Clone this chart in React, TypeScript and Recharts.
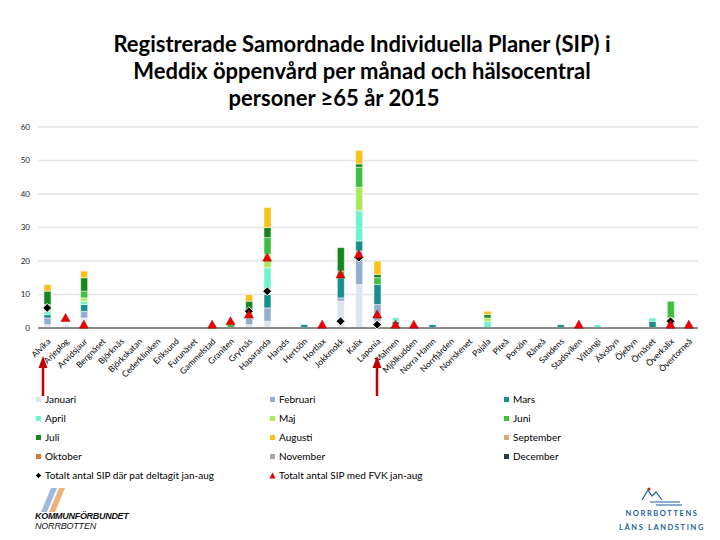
import { ComposedChart, Bar, Line, XAxis, YAxis, CartesianGrid } from "recharts";

const categories = [
  "Alvika", "Arjeplog", "Arvidsjaur", "Bergnäset", "Björknäs", "Björkskatan",
  "Cederkliniken", "Eriksund", "Furunäset", "Gammelstad", "Graniten", "Grytnäs",
  "Haparanda", "Harads", "Hertsön", "Hortlax", "Jokkmokk", "Kalix",
  "Laponia", "Malmen", "Mjölkudden", "Norra Hamn", "Norrfjärden", "Norrskenet",
  "Pajala", "Piteå", "Porsön", "Råneå", "Sandens", "Stadsviken",
  "Vittangi", "Älvsbyn", "Öjebyn", "Örnäset", "Överkalix", "Övertorneå",
];

const januari = [1, 1, 3, 0, 0, 0, 0, 0, 0, 0, 0, 1, 2, 0, 0, 0, 8, 13, 2, 1, 0, 0, 0, 0, 0, 0, 0, 0, 0, 0, 0, 0, 0, 0, 1, 0];
const februari = [2, 0, 2, 0, 0, 0, 0, 0, 0, 0, 0, 2, 4, 0, 0, 0, 1, 10, 5, 0, 0, 0, 0, 0, 0, 0, 0, 0, 0, 0, 0, 0, 0, 0, 0, 0];
const mars = [1, 0, 2, 0, 0, 0, 0, 0, 0, 0, 0, 1, 4, 0, 1, 0, 6, 3, 6, 1, 0, 1, 0, 0, 0, 0, 0, 0, 1, 0, 0, 0, 0, 2, 1, 0];
const april = [1, 0, 1, 0, 0, 0, 0, 0, 0, 0, 0, 0, 8, 0, 0, 0, 0, 9, 0, 1, 0, 0, 0, 0, 2, 0, 0, 0, 0, 0, 1, 0, 0, 1, 0, 0];
const maj = [1, 0, 1, 0, 0, 0, 0, 0, 0, 0, 0, 0, 4, 0, 0, 0, 0, 7, 0, 0, 0, 0, 0, 0, 1, 0, 0, 0, 0, 0, 0, 0, 0, 0, 1, 0];
const juni = [1, 0, 2, 0, 0, 0, 0, 0, 0, 0, 1, 1, 5, 0, 0, 0, 2, 6, 2, 0, 0, 0, 0, 0, 0, 0, 0, 0, 0, 0, 0, 0, 0, 0, 5, 0];
const juli = [4, 0, 4, 0, 0, 0, 0, 0, 0, 0, 0, 3, 3, 0, 0, 0, 7, 1, 1, 0, 0, 0, 0, 0, 1, 0, 0, 0, 0, 0, 0, 0, 0, 0, 0, 0];
const augusti = [2, 0, 2, 0, 0, 0, 0, 0, 0, 1, 1, 2, 6, 0, 0, 0, 0, 4, 4, 0, 0, 0, 0, 0, 1, 0, 0, 0, 0, 0, 0, 0, 0, 0, 0, 0];
// no registrations yet for the autumn months
const september: number[] = [];
const oktober: number[] = [];
const november: number[] = [];
const december: number[] = [];

const deltagit = [6, null, null, null, null, null, null, null, null, null, null, 5, 11, null, null, null, 2, 21, 1, null, null, null, null, null, null, null, null, null, null, null, null, null, null, null, 2, null];
const medFvk = [null, 3, 1, null, null, null, null, null, null, 1, 2, 4, 21, null, null, 1, 16, 22, 4, 1, 1, null, null, null, null, null, null, null, null, 1, null, null, null, null, 1, 1];

const months = [
  { key: "Januari", values: januari, color: "#dde5ef" },
  { key: "Februari", values: februari, color: "#93aecf" },
  { key: "Mars", values: mars, color: "#17908c" },
  { key: "April", values: april, color: "#6ff3cc" },
  { key: "Maj", values: maj, color: "#aaea5a" },
  { key: "Juni", values: juni, color: "#3ebf3e" },
  { key: "Juli", values: juli, color: "#15861c" },
  { key: "Augusti", values: augusti, color: "#f8c21a" },
  { key: "September", values: september, color: "#d8a878" },
  { key: "Oktober", values: oktober, color: "#d27a34" },
  { key: "November", values: november, color: "#a6a6a6" },
  { key: "December", values: december, color: "#243b55" },
];

const data = categories.map((name, i) => {
  const row: any = { name, deltagit: deltagit[i], fvk: medFvk[i] };
  months.forEach((m) => {
    const v = m.values[i];
    row[m.key] = v ? v : null;
  });
  return row;
});

const FONT = "Lato, 'Open Sans', sans-serif";

const CategoryTick = ({ x, y, payload }: any) => (
  <text
    x={x + 4}
    y={y + 6}
    transform={`rotate(-45, ${x + 4}, ${y + 6})`}
    textAnchor="end"
    fontSize={8.5}
    fontFamily={FONT}
    fill="#000"
  >
    {payload.value}
  </text>
);

const DiamondDot = ({ cx, cy, value, index }: any) => {
  if (value == null || cy == null) return <g key={`d-${index}`} />;
  return (
    <path
      key={`d-${index}`}
      d={`M${cx},${cy - 4.5} L${cx + 4.5},${cy} L${cx},${cy + 4.5} L${cx - 4.5},${cy} Z`}
      fill="#000"
      stroke="#fff"
      strokeWidth={1}
    />
  );
};

const TriangleDot = ({ cx, cy, value, index }: any) => {
  if (value == null || cy == null) return <g key={`t-${index}`} />;
  return (
    <path
      key={`t-${index}`}
      d={`M${cx},${cy - 4.5} L${cx + 4.5},${cy + 3.5} L${cx - 4.5},${cy + 3.5} Z`}
      fill="#f00000"
      stroke="#a00000"
      strokeWidth={0.5}
    />
  );
};

const legendItems = [
  ...months.map((m) => ({ label: m.key, kind: "square", color: m.color })),
  { label: "Totalt antal SIP där pat deltagit jan-aug", kind: "diamond", color: "#000" },
  { label: "Totalt antal SIP med FVK jan-aug", kind: "triangle", color: "#e00000" },
];

const LegendMarker = ({ kind, color }: any) => (
  <svg width={7} height={7} style={{ marginRight: 3, flexShrink: 0 }}>
    {kind === "square" && <rect x={1} y={1} width={5} height={5} fill={color} />}
    {kind === "diamond" && <path d="M3.5,0.5 L6.5,3.5 L3.5,6.5 L0.5,3.5 Z" fill="#000" stroke="#fff" strokeWidth={0.8} />}
    {kind === "triangle" && <path d="M3.5,0.5 L6.5,6.5 L0.5,6.5 Z" fill={color} />}
  </svg>
);

const Arrow = ({ x }: { x: number }) => (
  <g>
    <line x1={x} y1={396} x2={x} y2={366} stroke="#c00000" strokeWidth={2.5} />
    <path d={`M${x},356 L${x + 4.5},368 L${x - 4.5},368 Z`} fill="#c00000" />
  </g>
);

export default function App() {
  const colX = [35, 269, 503];
  const rowY = [399, 418, 437, 456, 475];

  return (
    <div style={{ position: "absolute", left: 0, top: 0, width: 720, height: 540, background: "#fff", fontFamily: FONT, overflow: "hidden" }}>
      {/* title */}
      {[
        { text: "Registrerade Samordnade Individuella Planer (SIP) i", cx: 362, top: 30 },
        { text: "Meddix öppenvård per månad och hälsocentral", cx: 362, top: 57 },
        { text: "personer ≥65 år 2015", cx: 334, top: 84 },
      ].map((l) => (
        <div
          key={l.text}
          style={{ position: "absolute", left: l.cx - 360, width: 720, top: l.top, textAlign: "center", fontSize: 22, fontWeight: 700, color: "#000", whiteSpace: "nowrap" }}
        >
          {l.text}
        </div>
      ))}

      <div style={{ position: "absolute", left: 0, top: 0 }}>
        <ComposedChart width={720} height={400} data={data} margin={{ top: 127, right: 22, left: 8, bottom: 0 }} barSize={7}>
          <CartesianGrid vertical={false} stroke="#e6e6e6" strokeWidth={1.5} />
          <XAxis
            dataKey="name"
            interval={0}
            height={72}
            tick={<CategoryTick />}
            tickLine={false}
            axisLine={{ stroke: "#8c8c8c", strokeWidth: 2 }}
          />
          <YAxis
            width={30}
            domain={[0, 60]}
            ticks={[0, 10, 20, 30, 40, 50, 60]}
            axisLine={false}
            tickLine={false}
            tick={{ fontSize: 8, fill: "#222", fontFamily: FONT }}
          />
          {months.map((m) => (
            <Bar key={m.key} dataKey={m.key} stackId="sip" fill={m.color} stroke="#fff" strokeWidth={0.5} isAnimationActive={false} />
          ))}
          <Line dataKey="deltagit" stroke="none" dot={<DiamondDot />} activeDot={false} isAnimationActive={false} />
          <Line dataKey="fvk" stroke="none" dot={<TriangleDot />} activeDot={false} isAnimationActive={false} />
        </ComposedChart>
      </div>

      <svg width={720} height={540} style={{ position: "absolute", left: 0, top: 0, pointerEvents: "none" }}>
        <Arrow x={43} />
        <Arrow x={377} />
        {/* Kommunförbundet mark */}
        <path d="M41,512 L47,512 L57,488 L51,488 Z" fill="#9db9db" />
        <path d="M49,512 L55,512 L65,488 L59,488 Z" fill="#ebb27c" />
        {/* landsting mark */}
        <path d="M642,500 L648,490 L652,496 L656,492 L662,500" fill="none" stroke="#1b5f9e" strokeWidth={1.2} />
        <path d="M650,502 L680,502 M656,505 L682,505" stroke="#1b5f9e" strokeWidth={1.2} />
        <circle cx={649} cy={489} r={1.6} fill="#d61f26" />
      </svg>

      {legendItems.map((item, i) => (
        <div
          key={item.label}
          style={{ position: "absolute", left: colX[i % 3], top: rowY[Math.floor(i / 3)] - 8, height: 16, display: "flex", alignItems: "center", fontSize: 10, color: "#000", whiteSpace: "nowrap" }}
        >
          <LegendMarker kind={item.kind} color={item.color} />
          {item.label}
        </div>
      ))}

      <div style={{ position: "absolute", left: 35, top: 511, fontSize: 9, lineHeight: "10px", fontStyle: "italic", fontFamily: "'Liberation Sans', Arial, sans-serif", color: "#111" }}>
        <div style={{ fontWeight: 700, letterSpacing: -0.3 }}>KOMMUNFÖRBUNDET</div>
        <div style={{ letterSpacing: -0.2 }}>NORRBOTTEN</div>
      </div>
      <div style={{ position: "absolute", left: 612, width: 100, top: 507, textAlign: "center", fontSize: 7.5, lineHeight: "14px", fontWeight: 700, letterSpacing: 1.6, color: "#1b5f9e" }}>
        <div>NORRBOTTENS</div>
        <div>LÄNS LANDSTING</div>
      </div>
    </div>
  );
}
